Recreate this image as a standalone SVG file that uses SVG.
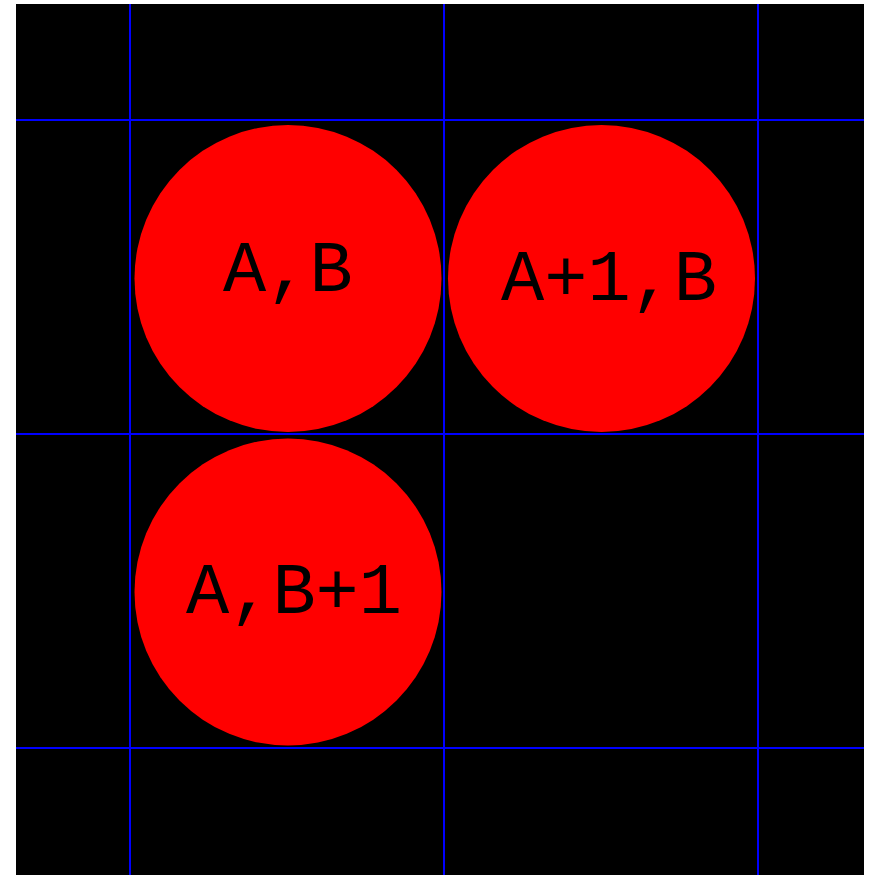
<svg xmlns="http://www.w3.org/2000/svg" width="870" height="875" viewBox="0 0 870 875">
<style>
.bg{fill:#000}
.grid line{stroke:#0000ff;stroke-width:2}
.node circle{fill:#ff0000}
.node text{font-family:"Liberation Mono","DejaVu Sans Mono",monospace;font-size:72px;fill:#000}
</style>
<rect x="0" y="0" width="870" height="875" fill="#fff"/>
<rect class="bg" x="16" y="4" width="848" height="871"/>
<g id="grid" class="grid">
<line x1="130" y1="4" x2="130" y2="875"/>
<line x1="444" y1="4" x2="444" y2="875"/>
<line x1="758" y1="4" x2="758" y2="875"/>
<line x1="16" y1="120" x2="864" y2="120"/>
<line x1="16" y1="434" x2="864" y2="434"/>
<line x1="16" y1="748" x2="864" y2="748"/>
</g>
<g id="node-a-b" class="node">
<circle cx="288" cy="278.5" r="153.5"/>
<text x="223" y="291">A,B</text>
</g>
<g id="node-a1-b" class="node">
<circle cx="601.5" cy="278.5" r="153.5"/>
<text x="501" y="300">A+1,B</text>
</g>
<g id="node-a-b1" class="node">
<circle cx="288" cy="592" r="153.5"/>
<text x="186" y="613">A,B+1</text>
</g>
<g id="connectors"></g>
</svg>
